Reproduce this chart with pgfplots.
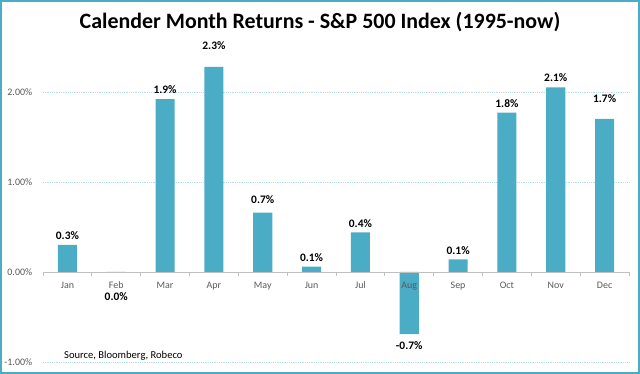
\documentclass[border=0pt]{standalone}
\usepackage{pgfplots}
\pgfplotsset{compat=1.18}
\usepackage{fontspec}
\setmainfont{Carlito}
\definecolor{barc}{RGB}{75,172,198}
\definecolor{gridc}{RGB}{180,222,234}
\definecolor{axc}{RGB}{191,191,191}
\definecolor{tickc}{RGB}{89,89,89}
\begin{document}
\begin{tikzpicture}
\path[use as bounding box] (0,0) rectangle (640bp,374bp);
\draw[barc, line width=2bp] (1bp,1bp) rectangle (639bp,373bp);
\begin{axis}[
  axis on top,
  at={(43bp,12bp)}, anchor=south west,
  scale only axis, width=586bp, height=315bp,
  xmin=-0.5, xmax=11.5, ymin=-1, ymax=2.5,
  axis x line=middle, axis y line=left,
  x axis line style={axc, line width=0.8bp, -},
  y axis line style={draw=none},
  xtick={0,...,11},
  xticklabels={Jan,Feb,Mar,Apr,May,Jun,Jul,Aug,Sep,Oct,Nov,Dec},
  major x tick style={draw=none},
  minor xtick={-0.5,0.5,...,11.5},
  minor x tick style={axc, line width=0.8bp},
  tick align=outside, minor tick length=4bp,
  x tick label style={font=\fontsize{10}{12}\selectfont, text=tickc, yshift=-2bp},
  ytick={-1,0,1,2},
  yticklabels={-1.00\%,0.00\%,1.00\%,2.00\%},
  major y tick style={draw=none},
  y tick label style={font=\fontsize{10}{12}\selectfont, text=tickc, xshift=-3bp},
  clip=false,
]
\addplot[gridc, line width=0.8bp, densely dotted, forget plot] coordinates {(-0.5,-1) (11.5,-1)};
\addplot[gridc, line width=0.8bp, densely dotted, forget plot] coordinates {(-0.5,1) (11.5,1)};
\addplot[gridc, line width=0.8bp, densely dotted, forget plot] coordinates {(-0.5,2) (11.5,2)};
\addplot[ybar, fill=barc, draw=none, bar width=0.39, bar shift=0pt,
  visualization depends on={value \thisrow{dy}\as\dy},
  visualization depends on={value \thisrow{anc}\as\anc},
  point meta=explicit symbolic,
  nodes near coords={\pgfplotspointmeta\%},
  every node near coord/.append style={font=\fontsize{11.5}{13}\selectfont\bfseries, text=black, inner sep=4bp, anchor=\anc, yshift=\dy},
] table[meta=lab] {
x y lab dy anc
0 0.30 0.3 1 south
1 -0.01 0.0 -16 north
2 1.92 1.9 1 south
3 2.28 2.3 13 south
4 0.66 0.7 5 south
5 0.06 0.1 1 south
6 0.44 0.4 1 south
7 -0.69 -0.7 -3 north
8 0.14 0.1 1 south
9 1.77 1.8 1 south
10 2.05 2.1 2 south
11 1.70 1.7 12 south
};
\end{axis}
\node[font=\fontsize{22}{26}\selectfont\bfseries] at (320bp,352bp) {Calender Month Returns - S\&P 500 Index (1995-now)};
\node[anchor=base west, font=\fontsize{10.6}{12}\selectfont, inner sep=0pt] at (64bp,16bp) {Source, Bloomberg, Robeco};
\end{tikzpicture}
\end{document}
